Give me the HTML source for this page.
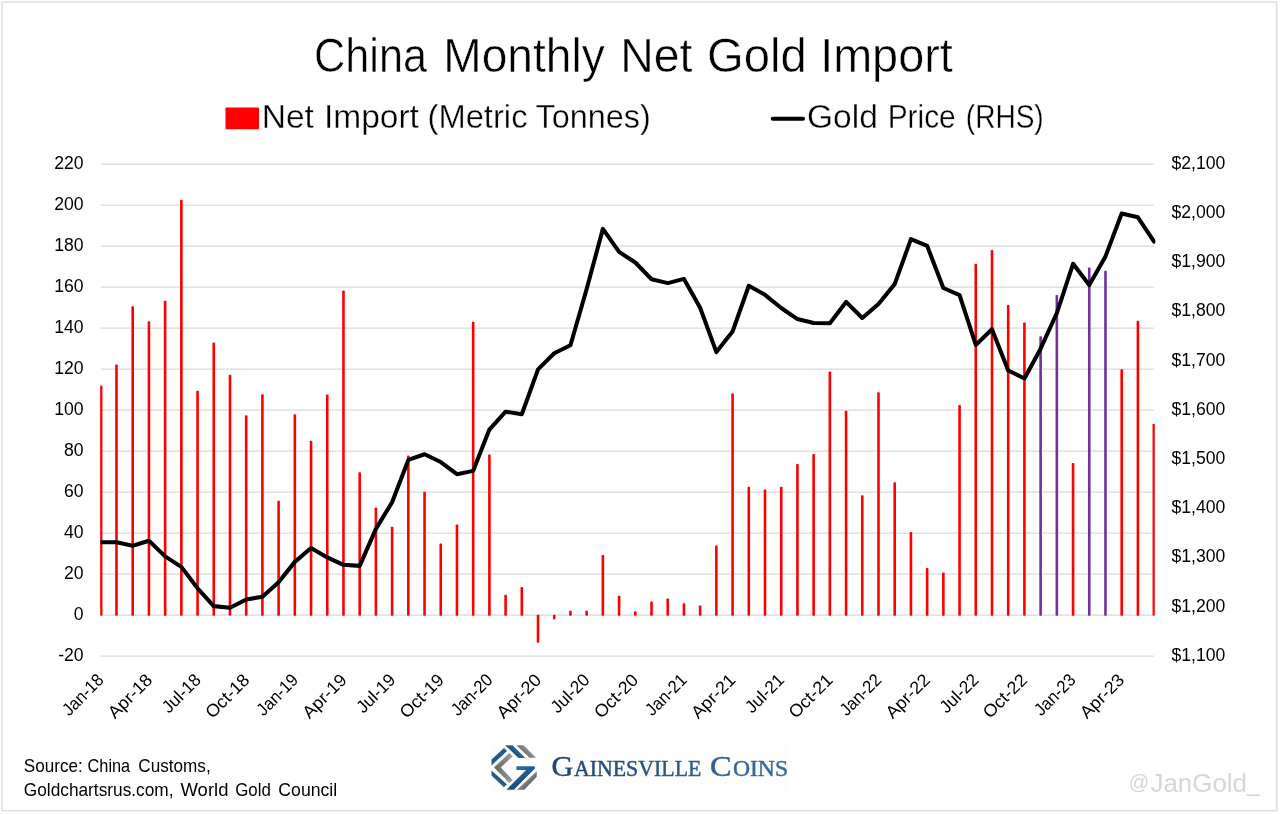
<!DOCTYPE html>
<html lang="en"><head><meta charset="utf-8"><title>China Monthly Net Gold Import</title>
<style>
html,body{margin:0;padding:0;background:#fff;}
body{width:1280px;height:814px;overflow:hidden;font-family:"Liberation Sans",Arial,sans-serif;}
svg{display:block;}
text{font-family:"Liberation Sans",Arial,sans-serif;}
.ser{font-family:"Liberation Serif","Times New Roman",serif;}
</style></head><body>
<svg width="1280" height="814" viewBox="0 0 1280 814">
<rect x="0" y="0" width="1280" height="814" fill="#fff"/>
<rect x="2.1" y="2" width="1274.7" height="808.8" rx="1.2" ry="1.2" fill="none" stroke="#dedede" stroke-width="1.5"/>
<rect x="491" y="744.6" width="297.5" height="46" fill="#fdfdfd"/>
<g fill="#000">
<text y="72.3" font-size="48.5" stroke="#fff" stroke-width="0.55"><tspan x="314.12" textLength="112.86" lengthAdjust="spacingAndGlyphs">China</tspan> <tspan x="443.25" textLength="161.44" lengthAdjust="spacingAndGlyphs">Monthly</tspan> <tspan x="620.33" textLength="72.17" lengthAdjust="spacingAndGlyphs">Net</tspan> <tspan x="707.05" textLength="99.64" lengthAdjust="spacingAndGlyphs">Gold</tspan> <tspan x="820.14" textLength="132.65" lengthAdjust="spacingAndGlyphs">Import</tspan></text>
<text y="127.5" font-size="33" stroke="#fff" stroke-width="0.35"><tspan x="261.72" textLength="52.2" lengthAdjust="spacingAndGlyphs">Net</tspan> <tspan x="323.95" textLength="94.97" lengthAdjust="spacingAndGlyphs">Import</tspan> <tspan x="427.52" textLength="99.98" lengthAdjust="spacingAndGlyphs">(Metric</tspan> <tspan x="535.5" textLength="115.2" lengthAdjust="spacingAndGlyphs">Tonnes)</tspan></text>
<text y="127.5" font-size="33" stroke="#fff" stroke-width="0.35"><tspan x="806.98" textLength="70.89" lengthAdjust="spacingAndGlyphs">Gold</tspan> <tspan x="887.69" textLength="68.03" lengthAdjust="spacingAndGlyphs">Price</tspan> <tspan x="965.8" textLength="77.89" lengthAdjust="spacingAndGlyphs">(RHS)</tspan></text>
<text y="771.6" font-size="18.2"><tspan x="23.8" textLength="58.89" lengthAdjust="spacingAndGlyphs">Source:</tspan> <tspan x="87.6" textLength="42.51" lengthAdjust="spacingAndGlyphs">China</tspan> <tspan x="138.3" textLength="72.39" lengthAdjust="spacingAndGlyphs">Customs,</tspan></text>
<text y="795.5" font-size="18.2"><tspan x="23.8" textLength="149.7" lengthAdjust="spacingAndGlyphs">Goldchartsrus.com,</tspan> <tspan x="180.5" textLength="47.93" lengthAdjust="spacingAndGlyphs">World</tspan> <tspan x="235.2" textLength="35.63" lengthAdjust="spacingAndGlyphs">Gold</tspan> <tspan x="278.3" textLength="58.91" lengthAdjust="spacingAndGlyphs">Council</tspan></text>
<text y="776.25" class="ser" fill="url(#gtx)" stroke="url(#gtx)" stroke-width="0.45"><tspan x="551.4" font-size="30.4" textLength="21.84" lengthAdjust="spacingAndGlyphs">G</tspan><tspan x="573.9" font-size="23.2" textLength="127.5" lengthAdjust="spacingAndGlyphs">AINESVILLE</tspan> <tspan x="709.93" font-size="30.4" textLength="21.62" lengthAdjust="spacingAndGlyphs">C</tspan><tspan x="732.9" font-size="23.2" textLength="55.21" lengthAdjust="spacingAndGlyphs">OINS</tspan></text>
</g>
<rect x="225.5" y="107.5" width="33.5" height="21.7" rx="0.8" fill="#ff0000"/>
<line x1="772.7" y1="118.75" x2="803" y2="118.75" stroke="#000" stroke-width="4" stroke-linecap="round"/>
<g stroke="#dadada" stroke-width="1.2">
<line x1="100.75" y1="164.05" x2="1153.75" y2="164.05"/>
<line x1="100.75" y1="205.05" x2="1153.75" y2="205.05"/>
<line x1="100.75" y1="246.05" x2="1153.75" y2="246.05"/>
<line x1="100.75" y1="287.05" x2="1153.75" y2="287.05"/>
<line x1="100.75" y1="328.05" x2="1153.75" y2="328.05"/>
<line x1="100.75" y1="369.05" x2="1153.75" y2="369.05"/>
<line x1="100.75" y1="410.05" x2="1153.75" y2="410.05"/>
<line x1="100.75" y1="451.05" x2="1153.75" y2="451.05"/>
<line x1="100.75" y1="492.05" x2="1153.75" y2="492.05"/>
<line x1="100.75" y1="533.05" x2="1153.75" y2="533.05"/>
<line x1="100.75" y1="574.05" x2="1153.75" y2="574.05"/>
<line x1="100.75" y1="615.05" x2="1153.75" y2="615.05"/>
<line x1="100.75" y1="656.05" x2="1153.75" y2="656.05"/>
</g>
<g font-size="17.6" text-anchor="end" fill="#000">
<text x="83.6" y="168.75">220</text>
<text x="83.6" y="209.75">200</text>
<text x="83.6" y="250.75">180</text>
<text x="83.6" y="291.75">160</text>
<text x="83.6" y="332.75">140</text>
<text x="83.6" y="373.75">120</text>
<text x="83.6" y="414.75">100</text>
<text x="83.6" y="455.75">80</text>
<text x="83.6" y="496.75">60</text>
<text x="83.6" y="537.75">40</text>
<text x="83.6" y="578.75">20</text>
<text x="83.6" y="619.75">0</text>
<text x="83.6" y="660.75">-20</text>
</g>
<g font-size="17.6" text-anchor="start" fill="#000">
<text x="1171.5" y="168.75" textLength="53.8" lengthAdjust="spacingAndGlyphs">$2,100</text>
<text x="1171.5" y="217.95" textLength="53.8" lengthAdjust="spacingAndGlyphs">$2,000</text>
<text x="1171.5" y="267.15" textLength="53.8" lengthAdjust="spacingAndGlyphs">$1,900</text>
<text x="1171.5" y="316.35" textLength="53.8" lengthAdjust="spacingAndGlyphs">$1,800</text>
<text x="1171.5" y="365.55" textLength="53.8" lengthAdjust="spacingAndGlyphs">$1,700</text>
<text x="1171.5" y="414.75" textLength="53.8" lengthAdjust="spacingAndGlyphs">$1,600</text>
<text x="1171.5" y="463.95" textLength="53.8" lengthAdjust="spacingAndGlyphs">$1,500</text>
<text x="1171.5" y="513.15" textLength="53.8" lengthAdjust="spacingAndGlyphs">$1,400</text>
<text x="1171.5" y="562.35" textLength="53.8" lengthAdjust="spacingAndGlyphs">$1,300</text>
<text x="1171.5" y="611.55" textLength="53.8" lengthAdjust="spacingAndGlyphs">$1,200</text>
<text x="1171.5" y="660.75" textLength="53.8" lengthAdjust="spacingAndGlyphs">$1,100</text>
</g>
<g>
<rect x="100.15" y="385.45" width="2.30" height="230.30" rx="0.8" fill="#ff0000"/>
<rect x="115.19" y="364.54" width="2.60" height="251.21" rx="0.8" fill="#ff0000"/>
<rect x="131.41" y="306.32" width="2.60" height="309.43" rx="0.8" fill="#ff0000"/>
<rect x="147.62" y="321.28" width="2.60" height="294.47" rx="0.8" fill="#ff0000"/>
<rect x="163.83" y="300.78" width="2.60" height="314.97" rx="0.8" fill="#ff0000"/>
<rect x="180.04" y="199.72" width="2.60" height="416.03" rx="0.8" fill="#ff0000"/>
<rect x="196.26" y="390.77" width="2.60" height="224.98" rx="0.8" fill="#ff0000"/>
<rect x="212.47" y="342.60" width="2.60" height="273.15" rx="0.8" fill="#ff0000"/>
<rect x="228.68" y="374.79" width="2.60" height="240.96" rx="0.8" fill="#ff0000"/>
<rect x="244.90" y="415.17" width="2.60" height="200.58" rx="0.8" fill="#ff0000"/>
<rect x="261.11" y="394.26" width="2.60" height="221.49" rx="0.8" fill="#ff0000"/>
<rect x="277.32" y="500.66" width="2.60" height="115.09" rx="0.8" fill="#ff0000"/>
<rect x="293.53" y="414.35" width="2.60" height="201.40" rx="0.8" fill="#ff0000"/>
<rect x="309.75" y="440.80" width="2.60" height="174.95" rx="0.8" fill="#ff0000"/>
<rect x="325.96" y="394.47" width="2.60" height="221.28" rx="0.8" fill="#ff0000"/>
<rect x="342.17" y="290.53" width="2.60" height="325.22" rx="0.8" fill="#ff0000"/>
<rect x="358.38" y="472.16" width="2.60" height="143.59" rx="0.8" fill="#ff0000"/>
<rect x="374.60" y="507.42" width="2.60" height="108.33" rx="0.8" fill="#ff0000"/>
<rect x="390.81" y="526.69" width="2.60" height="89.06" rx="0.8" fill="#ff0000"/>
<rect x="407.02" y="455.56" width="2.60" height="160.19" rx="0.8" fill="#ff0000"/>
<rect x="423.24" y="491.63" width="2.60" height="124.12" rx="0.8" fill="#ff0000"/>
<rect x="439.45" y="543.50" width="2.60" height="72.25" rx="0.8" fill="#ff0000"/>
<rect x="455.66" y="524.44" width="2.60" height="91.31" rx="0.8" fill="#ff0000"/>
<rect x="471.87" y="321.69" width="2.60" height="294.06" rx="0.8" fill="#ff0000"/>
<rect x="488.09" y="454.53" width="2.60" height="161.22" rx="0.8" fill="#ff0000"/>
<rect x="504.30" y="594.75" width="2.60" height="21.00" rx="0.8" fill="#ff0000"/>
<rect x="520.51" y="586.96" width="2.60" height="28.79" rx="0.8" fill="#ff0000"/>
<rect x="536.73" y="614.75" width="2.60" height="27.97" rx="0.8" fill="#ff0000"/>
<rect x="552.94" y="614.75" width="2.60" height="4.60" rx="0.8" fill="#ff0000"/>
<rect x="569.15" y="610.74" width="2.60" height="5.01" rx="0.8" fill="#ff0000"/>
<rect x="585.36" y="610.74" width="2.60" height="5.01" rx="0.8" fill="#ff0000"/>
<rect x="601.58" y="554.98" width="2.60" height="60.77" rx="0.8" fill="#ff0000"/>
<rect x="617.79" y="595.77" width="2.60" height="19.98" rx="0.8" fill="#ff0000"/>
<rect x="634.00" y="611.15" width="2.60" height="4.60" rx="0.8" fill="#ff0000"/>
<rect x="650.22" y="601.51" width="2.60" height="14.24" rx="0.8" fill="#ff0000"/>
<rect x="666.43" y="598.44" width="2.60" height="17.31" rx="0.8" fill="#ff0000"/>
<rect x="682.64" y="603.15" width="2.60" height="12.60" rx="0.8" fill="#ff0000"/>
<rect x="698.85" y="605.41" width="2.60" height="10.34" rx="0.8" fill="#ff0000"/>
<rect x="715.07" y="545.55" width="2.60" height="70.20" rx="0.8" fill="#ff0000"/>
<rect x="731.28" y="393.24" width="2.60" height="222.51" rx="0.8" fill="#ff0000"/>
<rect x="747.49" y="486.72" width="2.60" height="129.03" rx="0.8" fill="#ff0000"/>
<rect x="763.70" y="489.59" width="2.60" height="126.16" rx="0.8" fill="#ff0000"/>
<rect x="779.92" y="486.72" width="2.60" height="129.03" rx="0.8" fill="#ff0000"/>
<rect x="796.13" y="463.96" width="2.60" height="151.79" rx="0.8" fill="#ff0000"/>
<rect x="812.34" y="453.92" width="2.60" height="161.83" rx="0.8" fill="#ff0000"/>
<rect x="828.56" y="371.50" width="2.60" height="244.25" rx="0.8" fill="#ff0000"/>
<rect x="844.77" y="410.66" width="2.60" height="205.09" rx="0.8" fill="#ff0000"/>
<rect x="860.98" y="495.33" width="2.60" height="120.42" rx="0.8" fill="#ff0000"/>
<rect x="877.19" y="392.21" width="2.60" height="223.54" rx="0.8" fill="#ff0000"/>
<rect x="893.41" y="482.21" width="2.60" height="133.54" rx="0.8" fill="#ff0000"/>
<rect x="909.62" y="532.02" width="2.60" height="83.73" rx="0.8" fill="#ff0000"/>
<rect x="925.83" y="568.10" width="2.60" height="47.65" rx="0.8" fill="#ff0000"/>
<rect x="942.05" y="572.40" width="2.60" height="43.35" rx="0.8" fill="#ff0000"/>
<rect x="958.26" y="404.92" width="2.60" height="210.83" rx="0.8" fill="#ff0000"/>
<rect x="974.47" y="263.68" width="2.60" height="352.07" rx="0.8" fill="#ff0000"/>
<rect x="990.68" y="249.94" width="2.60" height="365.81" rx="0.8" fill="#ff0000"/>
<rect x="1006.90" y="305.08" width="2.60" height="310.67" rx="0.8" fill="#ff0000"/>
<rect x="1023.11" y="322.51" width="2.60" height="293.24" rx="0.8" fill="#ff0000"/>
<rect x="1039.32" y="336.25" width="2.60" height="279.50" rx="0.8" fill="#7030a0"/>
<rect x="1055.54" y="295.04" width="2.60" height="320.71" rx="0.8" fill="#7030a0"/>
<rect x="1071.75" y="462.94" width="2.60" height="152.81" rx="0.8" fill="#ff0000"/>
<rect x="1087.96" y="267.57" width="2.60" height="348.18" rx="0.8" fill="#7030a0"/>
<rect x="1104.17" y="270.85" width="2.60" height="344.90" rx="0.8" fill="#7030a0"/>
<rect x="1120.39" y="369.25" width="2.60" height="246.50" rx="0.8" fill="#ff0000"/>
<rect x="1136.60" y="320.67" width="2.60" height="295.08" rx="0.8" fill="#ff0000"/>
<rect x="1152.55" y="423.78" width="2.20" height="191.97" rx="0.8" fill="#ff0000"/>
</g>
<clipPath id="lc"><rect x="100.45" y="150" width="1054.9" height="520"/></clipPath>
<polyline clip-path="url(#lc)" points="100.28,542.25 116.49,542.35 132.71,545.70 148.92,540.73 165.13,556.37 181.34,566.90 197.56,588.30 213.77,606.12 229.98,607.79 246.20,599.47 262.41,596.77 278.62,582.25 294.83,561.88 311.05,547.96 327.26,557.41 343.47,564.79 359.68,565.87 375.90,528.82 392.11,502.30 408.32,459.94 424.54,454.23 440.75,462.01 456.96,474.21 473.17,470.86 489.39,429.59 505.60,411.68 521.81,414.24 538.03,369.32 554.24,353.23 570.45,345.21 586.66,288.97 602.88,228.90 619.09,251.88 635.30,262.50 651.52,279.23 667.73,283.12 683.94,278.89 700.15,307.82 716.37,352.10 732.58,331.53 748.79,285.77 765.00,294.83 781.22,308.01 797.43,319.08 813.64,322.92 829.86,323.22 846.07,301.91 862.28,317.95 878.49,303.98 894.71,284.15 910.92,239.13 927.13,245.82 943.35,287.99 959.56,295.02 975.77,344.96 991.98,329.27 1008.20,370.50 1024.41,378.52 1040.62,348.70 1056.84,313.03 1073.05,263.78 1089.26,285.04 1105.47,256.40 1121.69,213.55 1137.90,217.34 1154.11,241.54" fill="none" stroke="#000" stroke-width="4.05" stroke-linejoin="round" stroke-linecap="round"/>
<g font-size="17.6" text-anchor="end" fill="#000">
<text transform="translate(104.85,681.1) rotate(-45)" textLength="50.5" lengthAdjust="spacingAndGlyphs">Jan-18</text>
<text transform="translate(153.45,681.1) rotate(-45)" textLength="54.3" lengthAdjust="spacingAndGlyphs">Apr-18</text>
<text transform="translate(202.05,681.1) rotate(-45)" textLength="46.7" lengthAdjust="spacingAndGlyphs">Jul-18</text>
<text transform="translate(250.65,681.1) rotate(-45)" textLength="54.0" lengthAdjust="spacingAndGlyphs">Oct-18</text>
<text transform="translate(299.25,681.1) rotate(-45)" textLength="50.5" lengthAdjust="spacingAndGlyphs">Jan-19</text>
<text transform="translate(347.85,681.1) rotate(-45)" textLength="54.3" lengthAdjust="spacingAndGlyphs">Apr-19</text>
<text transform="translate(396.45,681.1) rotate(-45)" textLength="46.7" lengthAdjust="spacingAndGlyphs">Jul-19</text>
<text transform="translate(445.05,681.1) rotate(-45)" textLength="54.0" lengthAdjust="spacingAndGlyphs">Oct-19</text>
<text transform="translate(493.65,681.1) rotate(-45)" textLength="50.5" lengthAdjust="spacingAndGlyphs">Jan-20</text>
<text transform="translate(542.25,681.1) rotate(-45)" textLength="54.3" lengthAdjust="spacingAndGlyphs">Apr-20</text>
<text transform="translate(590.85,681.1) rotate(-45)" textLength="46.7" lengthAdjust="spacingAndGlyphs">Jul-20</text>
<text transform="translate(639.45,681.1) rotate(-45)" textLength="54.0" lengthAdjust="spacingAndGlyphs">Oct-20</text>
<text transform="translate(688.05,681.1) rotate(-45)" textLength="50.5" lengthAdjust="spacingAndGlyphs">Jan-21</text>
<text transform="translate(736.65,681.1) rotate(-45)" textLength="54.3" lengthAdjust="spacingAndGlyphs">Apr-21</text>
<text transform="translate(785.25,681.1) rotate(-45)" textLength="46.7" lengthAdjust="spacingAndGlyphs">Jul-21</text>
<text transform="translate(833.85,681.1) rotate(-45)" textLength="54.0" lengthAdjust="spacingAndGlyphs">Oct-21</text>
<text transform="translate(882.45,681.1) rotate(-45)" textLength="50.5" lengthAdjust="spacingAndGlyphs">Jan-22</text>
<text transform="translate(931.05,681.1) rotate(-45)" textLength="54.3" lengthAdjust="spacingAndGlyphs">Apr-22</text>
<text transform="translate(979.65,681.1) rotate(-45)" textLength="46.7" lengthAdjust="spacingAndGlyphs">Jul-22</text>
<text transform="translate(1028.25,681.1) rotate(-45)" textLength="54.0" lengthAdjust="spacingAndGlyphs">Oct-22</text>
<text transform="translate(1076.85,681.1) rotate(-45)" textLength="50.5" lengthAdjust="spacingAndGlyphs">Jan-23</text>
<text transform="translate(1125.45,681.1) rotate(-45)" textLength="54.3" lengthAdjust="spacingAndGlyphs">Apr-23</text>
</g>
<text fill="#d6d6d6"><tspan x="1128.87" y="789.2" font-size="19.5" textLength="20.46" lengthAdjust="spacingAndGlyphs">@</tspan><tspan x="1150.5" y="791.9" font-size="26" textLength="96.45" lengthAdjust="spacingAndGlyphs">JanGold</tspan><tspan x="1246.8" y="791.1" font-size="23.7" textLength="13.2" lengthAdjust="spacingAndGlyphs">_</tspan></text>
<defs>
<linearGradient id="gtx" gradientUnits="userSpaceOnUse" x1="552" y1="800" x2="790" y2="740"><stop offset="0" stop-color="#1f4272"/><stop offset="1" stop-color="#3b6d9f"/></linearGradient>
<linearGradient id="gbl" gradientUnits="userSpaceOnUse" x1="100" y1="100" x2="740" y2="725"><stop offset="0" stop-color="#1d5587"/><stop offset="1" stop-color="#275f97"/></linearGradient>
<linearGradient id="ggr" gradientUnits="userSpaceOnUse" x1="100" y1="100" x2="740" y2="725"><stop offset="0" stop-color="#8a8c8f"/><stop offset="1" stop-color="#6f7073"/></linearGradient>
</defs>
<g transform="translate(484,738) scale(0.07127)">
<defs>
<linearGradient id="lg1" gradientUnits="userSpaceOnUse" x1="165" y1="195" x2="250" y2="280"><stop offset="0" stop-color="#2d6ba3"/><stop offset="1" stop-color="#1b4a79"/></linearGradient>
<linearGradient id="lg2" gradientUnits="userSpaceOnUse" x1="165" y1="630" x2="250" y2="545"><stop offset="0" stop-color="#2d6ba3"/><stop offset="1" stop-color="#1b4a79"/></linearGradient>
<linearGradient id="lg3" gradientUnits="userSpaceOnUse" x1="140" y1="415" x2="400" y2="415"><stop offset="0" stop-color="#636467"/><stop offset="1" stop-color="#9b9c9f"/></linearGradient>
<linearGradient id="lg4" gradientUnits="userSpaceOnUse" x1="480" y1="150" x2="395" y2="235"><stop offset="0" stop-color="#2d6ba3"/><stop offset="1" stop-color="#1b4a79"/></linearGradient>
<linearGradient id="lg5" gradientUnits="userSpaceOnUse" x1="640" y1="150" x2="555" y2="235"><stop offset="0" stop-color="#9b9c9f"/><stop offset="1" stop-color="#636467"/></linearGradient>
<linearGradient id="lg6" gradientUnits="userSpaceOnUse" x1="480" y1="420" x2="600" y2="620"><stop offset="0" stop-color="#2d6ba3"/><stop offset="1" stop-color="#1b4a79"/></linearGradient>
<linearGradient id="lg7" gradientUnits="userSpaceOnUse" x1="560" y1="555" x2="650" y2="645"><stop offset="0" stop-color="#9b9c9f"/><stop offset="1" stop-color="#636467"/></linearGradient>
</defs>
<polygon points="105,300 280,140 322,182 105,385" fill="url(#lg1)"/>
<polygon points="105,455 320,650 280,690 105,525" fill="url(#lg2)"/>
<polygon points="140,415 355,212 402,255 238,415 402,590 358,632" fill="url(#lg3)"/>
<polygon points="295,100 400,100 580,280 485,280" fill="url(#lg4)"/>
<polygon points="455,100 555,100 730,278 640,278" fill="url(#lg5)"/>
<polygon points="455,395 705,395 720,420 420,725 315,725 590,450 455,450" fill="url(#lg6)"/>
<polygon points="740,468 740,545 565,725 462,725" fill="url(#lg7)"/>
</g>
</svg></body></html>
